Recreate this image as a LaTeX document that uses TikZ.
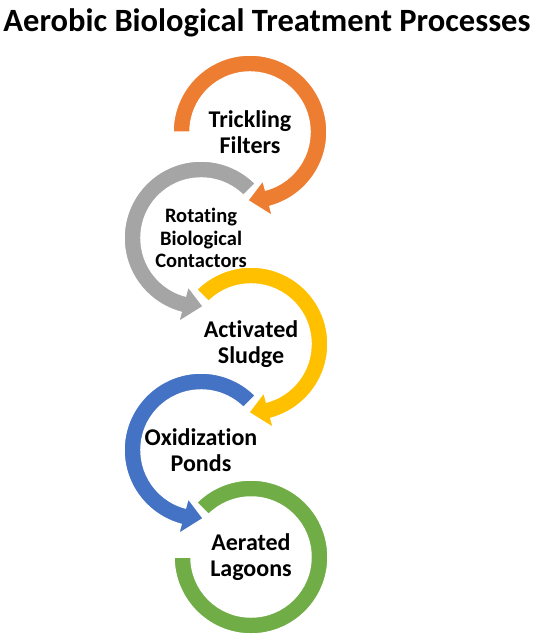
\documentclass[tikz,border=0pt]{standalone}
\usepackage{fontspec}
\setsansfont{Carlito}[Ligatures=NoCommon]
\usepackage{xcolor}
\usetikzlibrary{positioning}
\definecolor{arc_orange}{HTML}{ED7D31}
\definecolor{arc_gray}{HTML}{A5A5A5}
\definecolor{arc_yellow}{HTML}{FFC000}
\definecolor{arc_blue}{HTML}{4472C4}
\definecolor{arc_green}{HTML}{70AD47}
\tikzset{
	ring_style/.style = {draw=white, line width=1.5pt, line join=miter},
	label_style/.style = {align=center, text=black, font=\sffamily\bfseries\fontsize{24}{26.5}\selectfont},
	small_label/.style = {label_style, font=\sffamily\bfseries\fontsize{20.5}{22.5}\selectfont},
	title_style/.style = {font=\sffamily\bfseries\fontsize{32.5}{36}\selectfont}
}
% #1 centre, #2 start angle, #3 end angle, #4 tip angle, #5 colour
\newcommand{\ringarrow}[5]{%
	\path[ring_style, fill=#5, shift={(#1)}]
		(#2:77) arc[start angle=#2, end angle=#3, radius=77]
		-- (#3:87) -- (#4:68.5) -- (#3:50) -- (#3:60)
		arc[start angle=#3, end angle=#2, radius=60] -- cycle;
}

\begin{document}
\begin{tikzpicture}[x=1pt, y=1pt]
	\useasboundingbox (0,0) rectangle (535,-642);

	\coordinate (c1) at (250,-132);
	\coordinate (c2) at (201,-238);
	\coordinate (c3) at (251,-344);
	\coordinate (c4) at (201,-450);
	\coordinate (c5) at (251,-557);

	\node[title_style] (title) at (267,-23) {Aerobic Biological Treatment Processes};

	\ringarrow{c1}{180}{-75}{-92}{arc_orange}
	\ringarrow{c2}{45}{255}{272}{arc_gray}
	\ringarrow{c3}{135}{-75}{-92}{arc_yellow}
	\ringarrow{c4}{45}{255}{272}{arc_blue}
	\path[ring_style, fill=arc_green, shift={(c5)}]
		(135:77) arc[start angle=135, end angle=-180, radius=77]
		-- (180:60) arc[start angle=-180, end angle=135, radius=60] -- cycle;

	\node[label_style] (trickling) at (c1) {Trickling\\Filters};
	\node[small_label] (rotating) at (c2) {Rotating\\Biological\\Contactors};
	\node[label_style] (activated) at (c3) {Activated\\Sludge};
	\node[label_style] (oxidization) at (c4) {Oxidization\\Ponds};
	\node[label_style] (aerated) at (c5) {Aerated\\Lagoons};
\end{tikzpicture}
\end{document}
